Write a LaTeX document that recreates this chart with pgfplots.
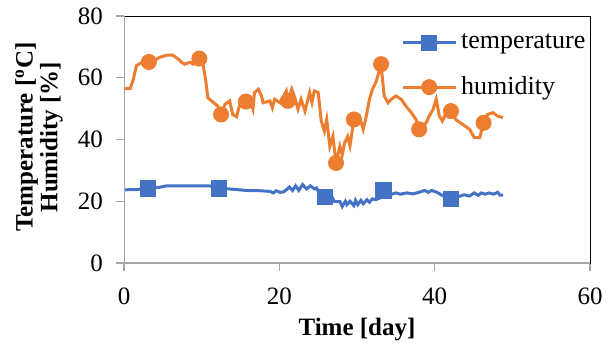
\documentclass[border=0pt]{standalone}
\usepackage{fontspec}
\setmainfont{Liberation Serif}
\usepackage{pgfplots}
\pgfplotsset{compat=1.18}
\definecolor{tblue}{HTML}{4472C4}
\definecolor{torange}{HTML}{ED7D31}
\definecolor{axgray}{HTML}{A6A6A6}
\begin{document}
\begin{tikzpicture}
\begin{axis}[
  scale only axis, width=233pt, height=123.5pt,
  xmin=0, xmax=60, ymin=0, ymax=80,
  xtick={0,20,40,60}, ytick={0,20,40,60,80},
  xtick pos=left, ytick pos=left,
  axis line style={black, line width=0.5pt},
  tick align=outside, major tick length=4pt,
  tick style={axgray, line width=0.6pt},
  /pgf/number format/assume math mode=true,
  ticklabel style={font=\fontsize{12.5}{14}\selectfont},
  yticklabel style={xshift=-3pt},
  xticklabel style={yshift=-5pt},
  xlabel={Time [day]},
  xlabel style={font=\bfseries\fontsize{12.5}{14}\selectfont, at={(rel axis cs:0.5,0)}, anchor=center, yshift=-33.5pt},
  ylabel={Temperature [\textsuperscript{o}C]\\Humidity [\%]},
  ylabel style={font=\bfseries\fontsize{12.5}{11}\selectfont, align=center, at={(rel axis cs:0,0.51)}, anchor=center, yshift=42.5pt},
  legend style={draw=none, fill=none, at={(rel axis cs:0.594,0.945)}, anchor=north west,
    font=\fontsize{13}{14}\selectfont, row sep=8.5pt, inner sep=0pt},
  legend cell align=left,
  legend image code/.code={\draw[#1, mark=none] (0pt,0pt) -- (26.5pt,0pt);
     \draw[#1, mark indices={1}] plot coordinates {(13.25pt,0pt)};},
]
\coordinate (sw) at (rel axis cs:0,0);
\coordinate (ne) at (rel axis cs:1,1);
\addplot[tblue, line width=1.5pt, mark=square*, mark size=3.8pt,
  mark options={solid, fill=tblue, draw=tblue, line width=0.5pt},
  mark indices={3,8,28,46,58}] coordinates {
(0.0,23.7) (1.5,23.8) (3.1,24.1) (4.5,24.5) (5.5,25.0) (8.0,25.0) (11.0,25.0)
(12.2,24.1) (13.5,24.0) (15.8,23.5) (17.5,23.4) (18.8,23.2) (19.2,22.7) (19.6,23.4)
(20.1,22.9) (20.5,23.0) (20.9,23.7) (21.3,24.6) (21.7,23.5) (22.1,25.0) (22.5,23.5)
(23.0,25.4) (23.5,24.0) (24.0,25.0) (24.5,24.0) (24.8,24.3) (25.1,22.7) (25.9,21.4)
(26.5,22.7) (27.1,19.9) (27.8,19.9) (28.1,18.3) (28.5,20.0) (28.7,18.9) (29.1,20.0)
(29.6,18.6) (29.8,20.3) (30.1,18.9) (30.5,20.3) (30.8,19.2) (31.3,20.5) (31.6,19.7)
(32.0,20.8) (32.4,20.5) (32.9,21.0) (33.4,23.5) (34.2,22.1) (35.0,22.7) (35.6,22.3)
(36.4,22.7) (37.2,22.4) (38.0,22.9) (38.7,23.5) (39.2,22.9) (39.6,23.5) (40.3,22.9)
(40.9,22.0) (42.1,20.7) (43.8,22.1) (44.5,21.7) (45.1,22.7) (45.6,21.9) (46.0,22.7)
(46.5,22.3) (47.0,22.7) (47.6,22.3) (48.1,22.9) (48.4,22.0) (48.8,22.0)
};
\addlegendentry{temperature}
\addplot[torange, line width=1.5pt, mark=*, mark size=3.75pt,
  mark options={solid, fill=torange, draw=torange, line width=0.5pt},
  mark indices={6,16,22,28,40,55,61,68,78,86,92}] coordinates {
(0.0,56.5) (0.8,56.5) (1.2,59.5) (1.6,63.9) (2.1,64.7) (3.2,65.1) (4.0,65.8)
(4.6,66.6) (5.5,67.3) (6.3,67.3) (7.0,66.0) (7.4,65.0) (7.8,64.4) (8.5,65.0)
(8.9,64.4) (9.7,66.2) (10.2,63.9) (10.5,59.5) (10.8,53.5) (11.5,52.0) (12.1,50.8)
(12.5,48.1) (13.0,51.4) (13.6,52.5) (14.0,48.1) (14.5,47.4) (14.9,51.4) (15.7,52.3)
(16.3,52.0) (16.6,49.8) (16.8,55.2) (17.3,56.3) (17.7,54.1) (17.9,51.9) (18.8,52.5)
(19.1,50.3) (19.4,53.0) (20.1,51.9) (20.9,55.7) (21.1,52.5) (21.6,56.3) (22.0,53.5)
(22.4,49.8) (22.8,53.0) (23.3,49.2) (23.9,55.2) (24.2,52.0) (24.5,55.7) (25.0,55.2)
(25.4,46.0) (25.8,42.7) (26.1,46.5) (26.5,37.8) (26.9,41.0) (27.3,32.4) (27.8,37.8)
(28.1,35.0) (28.4,38.9) (28.8,41.0) (29.1,38.0) (29.6,46.5) (30.3,47.6) (30.8,43.3)
(31.2,47.6) (31.6,53.0) (32.0,56.3) (32.5,59.0) (33.1,64.4) (33.3,59.0) (33.5,54.1)
(34.0,51.9) (34.4,53.0) (35.0,54.1) (35.7,53.0) (36.3,50.8) (37.0,48.7) (37.6,46.5)
(38.0,43.3) (38.9,45.4) (39.3,47.6) (39.8,49.8) (40.2,53.0) (40.6,47.6) (41.0,46.0)
(41.5,48.7) (42.1,49.2) (42.7,46.5) (43.6,44.9) (44.5,43.3) (45.1,40.6) (45.8,40.6)
(46.3,45.4) (46.8,48.1) (47.5,48.7) (48.1,47.6) (48.8,47.1)
};
\addlegendentry{humidity}
\draw[axgray, line width=0.6pt] (rel axis cs:0,1) -- (rel axis cs:0,0) -- (rel axis cs:1,0);
\end{axis}
\pgfresetboundingbox
\path[use as bounding box] ([shift={(-62pt,-42.5pt)}]sw) rectangle ([shift={(10.5pt,8pt)}]ne);
\end{tikzpicture}
\end{document}
